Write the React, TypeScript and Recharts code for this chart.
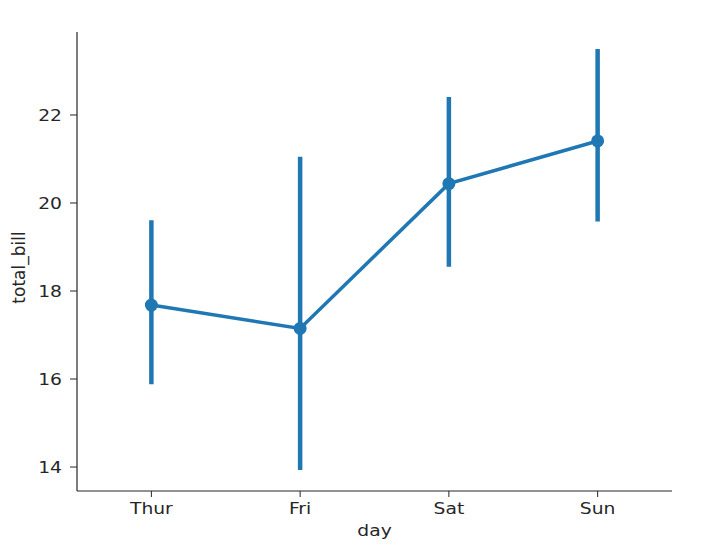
import { LineChart, Line, XAxis, YAxis, ErrorBar, Label } from "recharts";

const days = ["Thur", "Fri", "Sat", "Sun"];
const meanBill = [17.68, 17.15, 20.44, 21.41];
const ciLow = [15.88, 13.93, 18.55, 19.58];
const ciHigh = [19.61, 21.05, 22.41, 23.5];
const yTicks = [14, 16, 18, 20, 22];

const blue = "#1f77b4";
const ink = "#262626";
const font = "DejaVu Sans";

const data = days.map((day, i) => ({
  day,
  total_bill: meanBill[i],
  ci: [meanBill[i] - ciLow[i], ciHigh[i] - meanBill[i]],
}));

// horizontal labels in the reference are a touch wider than plain DejaVu
function WideText({ x, y, anchor, children }: any) {
  return (
    <g transform={`translate(${x},${y}) scale(1.17,1)`}>
      <text x={0} y={0} textAnchor={anchor} fill={ink} fontSize={16} fontFamily={font}>
        {children}
      </text>
    </g>
  );
}

const XTick = (props: any) => (
  <WideText x={props.x} y={props.y + 17} anchor="middle">
    {props.payload.value}
  </WideText>
);

const YTick = (props: any) => (
  <WideText x={props.x} y={props.y + 6} anchor="end">
    {props.payload.value}
  </WideText>
);

export default function App() {
  return (
    <div style={{ position: "absolute", left: 0, top: 0, background: "#fff" }}>
      <LineChart
        width={715}
        height={550}
        data={data}
        margin={{ top: 32, right: 43, bottom: 0, left: 17 }}
      >
        <XAxis
          dataKey="day"
          scale="band"
          height={59}
          tick={<XTick />}
          tickLine={{ stroke: ink }}
          axisLine={{ stroke: ink, strokeWidth: 1.2 }}
          tickSize={6}
          tickMargin={0}
        >
          <Label
            content={({ viewBox }: any) => (
              <WideText x={viewBox.x + viewBox.width / 2} y={viewBox.y + 45} anchor="middle">
                day
              </WideText>
            )}
          />
        </XAxis>
        <YAxis
          type="number"
          domain={[13.455, 23.886]}
          ticks={yTicks}
          allowDataOverflow
          width={60}
          tick={<YTick />}
          tickLine={{ stroke: ink }}
          axisLine={{ stroke: ink, strokeWidth: 1.2 }}
          tickSize={7}
          tickMargin={8}
        >
          <Label
            content={({ viewBox }: any) => {
              const cx = viewBox.x + 8;
              const cy = viewBox.y + viewBox.height / 2 + 6;
              return (
                <text
                  x={cx}
                  y={cy}
                  transform={`rotate(-90, ${cx}, ${cy})`}
                  textAnchor="middle"
                  fill={ink}
                  fontSize={17}
                  fontFamily={font}
                >
                  total_bill
                </text>
              );
            }}
          />
        </YAxis>
        <Line
          dataKey="total_bill"
          stroke={blue}
          strokeWidth={3.5}
          dot={{ r: 6.5, fill: blue, stroke: blue, strokeWidth: 0 }}
          activeDot={false}
          isAnimationActive={false}
        >
          <ErrorBar
            dataKey="ci"
            direction="y"
            width={0}
            stroke={blue}
            strokeWidth={4.5}
            isAnimationActive={false}
          />
        </Line>
      </LineChart>
    </div>
  );
}
